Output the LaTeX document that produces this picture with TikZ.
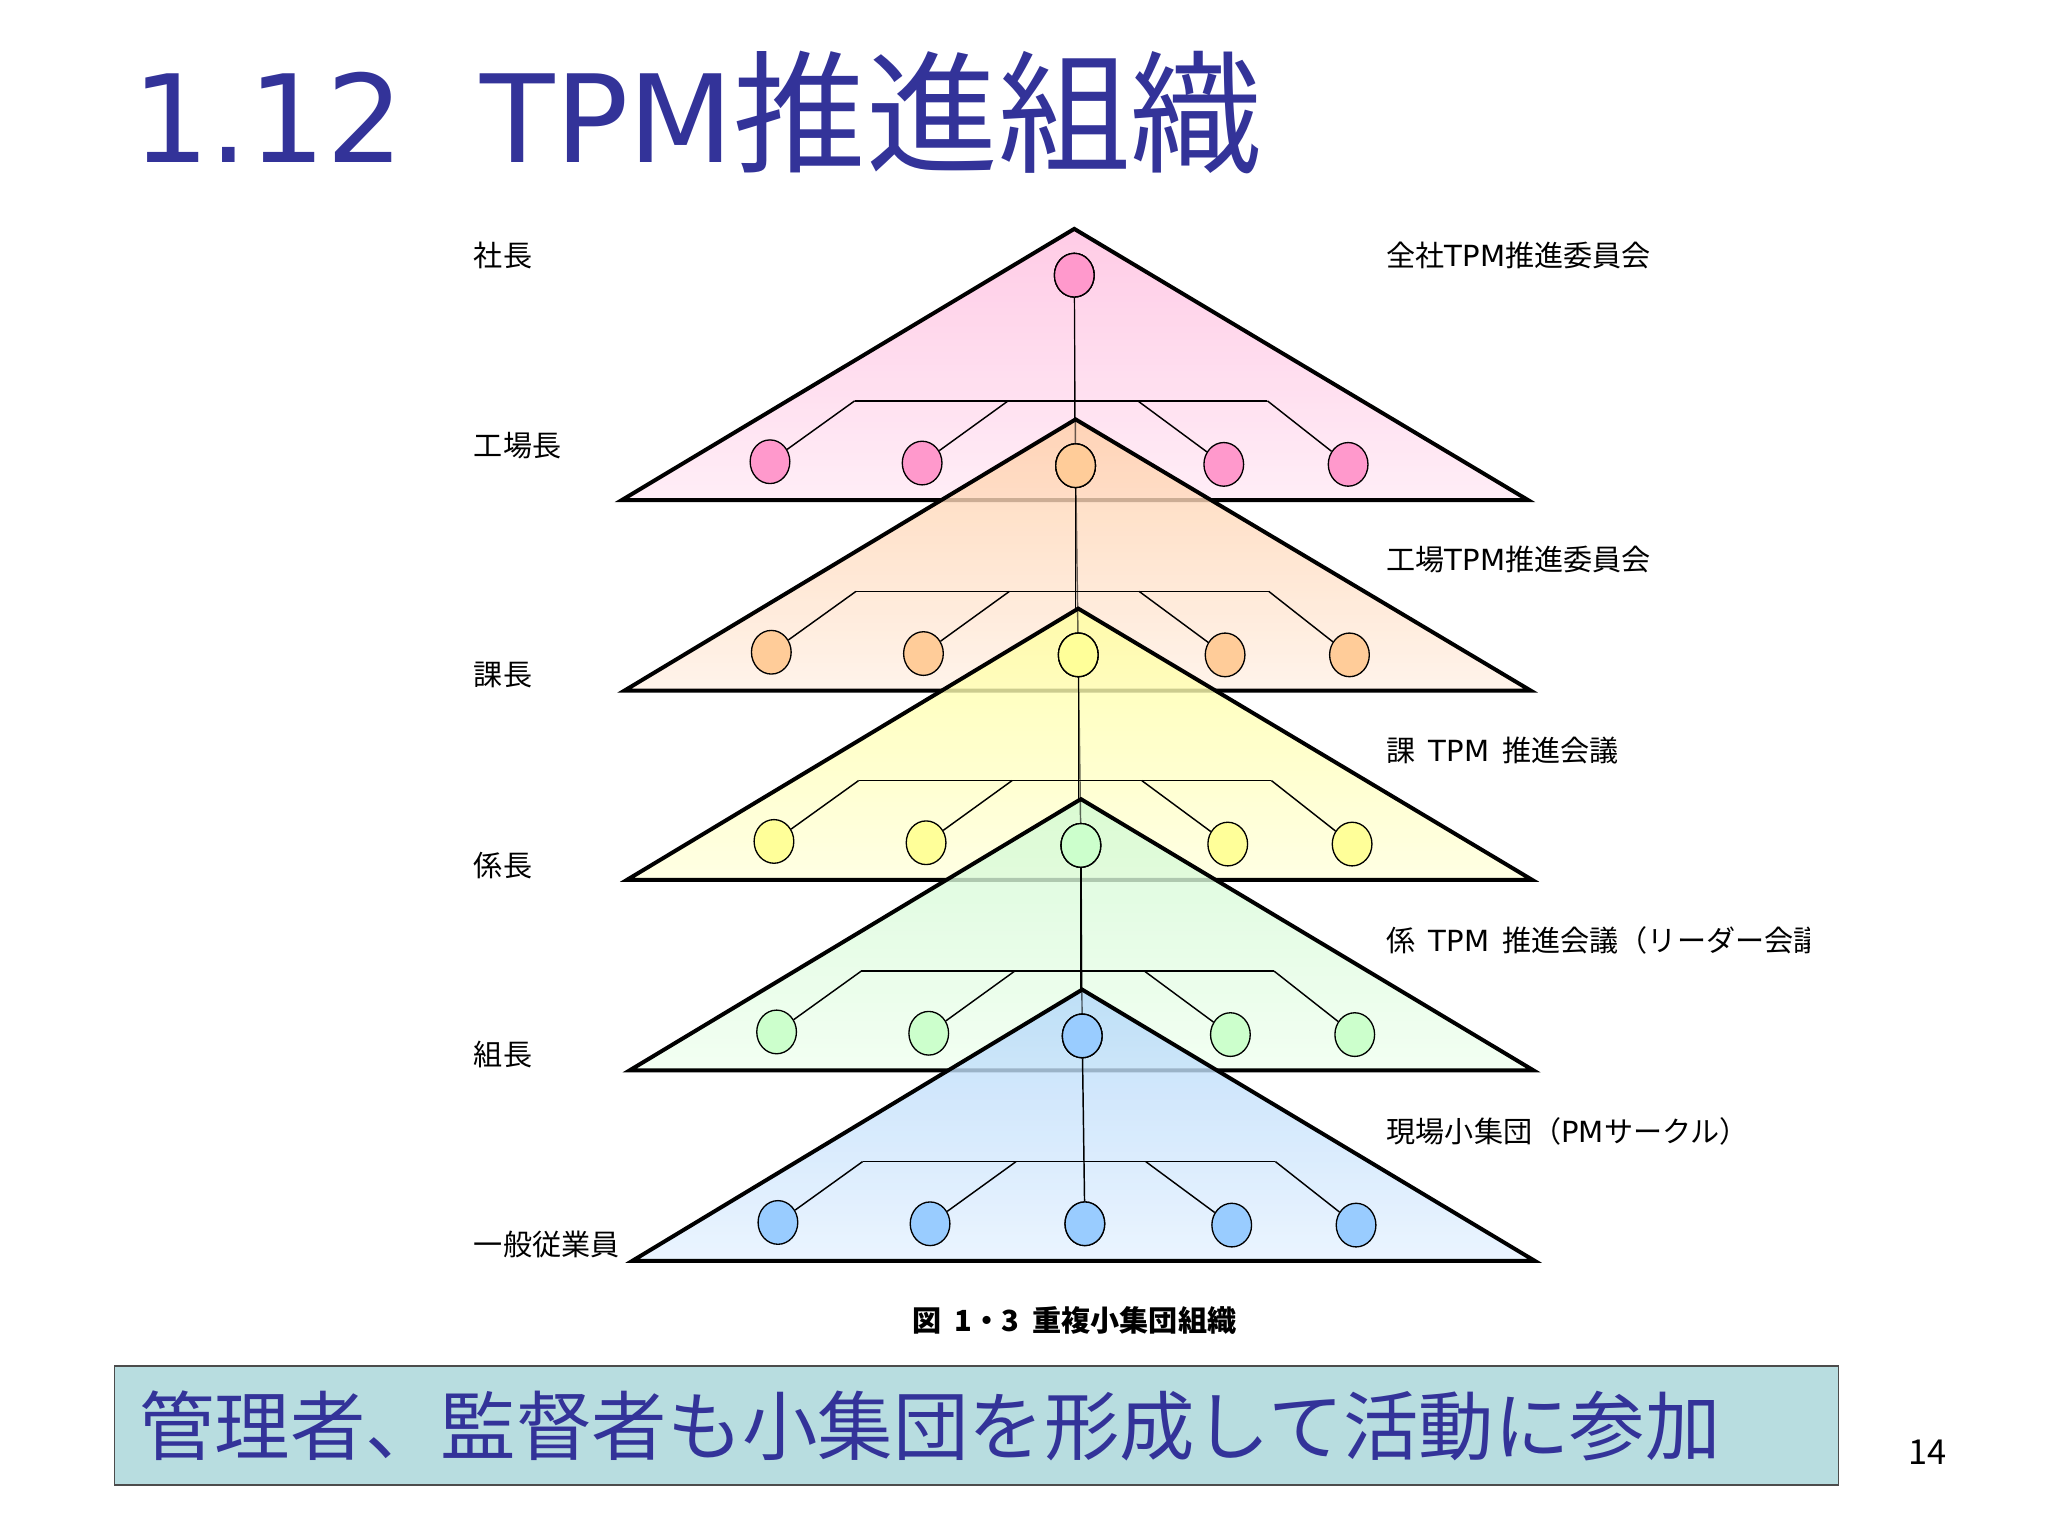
\documentclass[tikz,border=0pt]{standalone}
\usepackage{fontspec}
\usetikzlibrary{shapes.geometric}
\setmainfont{Noto Sans CJK JP}
\newfontfamily\lat{DejaVu Sans}
\begin{document}
\begin{tikzpicture}[x=1pt,y=-1pt,
  tri/.style={draw=black,line width=3pt,line join=miter},
  dot/.style={draw=black,line width=1pt,ellipse,minimum width=30pt,minimum height=33pt,inner sep=0pt},
  lnk/.style={line width=1.1pt},
  lab/.style={anchor=west,font=\fontsize{22}{24}\selectfont,inner sep=0pt}]
\useasboundingbox (0,0) rectangle (1548,1161);
\fill[white] (0,0) rectangle (1548,1161);
\node[anchor=base west,inner sep=0pt,font=\fontsize{100}{110}\selectfont,text={rgb,255:red,51;green,51;blue,153}] (title) at (100,123) {{\lat\fontsize{92}{100}\selectfont 1.12\ \ TPM}推進組織};
\definecolor{c1}{HTML}{FF99CC}\definecolor{t1}{HTML}{FFBFE0}\definecolor{b1}{HTML}{FFEAF5}
\definecolor{c2}{HTML}{FFCC99}\definecolor{t2}{HTML}{FFCFA8}\definecolor{b2}{HTML}{FFF1E6}
\definecolor{c3}{HTML}{FFFF99}\definecolor{t3}{HTML}{FFFFA0}\definecolor{b3}{HTML}{FFFFDD}
\definecolor{c4}{HTML}{CCFFCC}\definecolor{t4}{HTML}{D2FAD2}\definecolor{b4}{HTML}{F0FFF0}
\definecolor{c5}{HTML}{99CCFF}\definecolor{t5}{HTML}{B3D8FA}\definecolor{b5}{HTML}{E6F2FF}
\foreach \i/\ax/\ay/\l/\r in {1/812/173/470/1155,2/813/317/472/1157,3/815/460/474/1158,4/817/604/476/1159,5/818/748/478/1160}{
  \shade[top color=t\i,bottom color=b\i,fill opacity=0.8] (\ax,\ay) -- (\r,\ay+205) -- (\l,\ay+205) -- cycle;
  \draw[tri] (\ax,\ay) -- (\r,\ay+205) -- (\l,\ay+205) -- cycle;
  \node[dot,fill=c\i] (top\i) at (\ax,\ay+35) {};
  \draw[lnk] (\ax-166,\ay+130) -- (\ax+146,\ay+130);
  \node[dot,fill=c\i] (a\i) at (\ax-230,\ay+176) {};
  \node[dot,fill=c\i] (b\i) at (\ax-115,\ay+177) {};
  \node[dot,fill=c\i] (d\i) at (\ax+113,\ay+178) {};
  \node[dot,fill=c\i] (e\i) at (\ax+207,\ay+178) {};
  \coordinate (p\i) at (\ax-166,\ay+130);
  \coordinate (q\i) at (\ax-50,\ay+130);
  \coordinate (s\i) at (\ax+48,\ay+130);
  \coordinate (t\i) at (\ax+146,\ay+130);
  \draw[lnk] (p\i) -- (a\i); \draw[lnk] (q\i) -- (b\i);
  \draw[lnk] (s\i) -- (d\i); \draw[lnk] (t\i) -- (e\i);
  \ifnum\i<5 \draw[lnk] (top\i) -- (\ax,\ay+144);\fi
  \node[dot,fill=c\i] at (top\i) {};
}
\node[dot,fill=c5] (m5) at (820,925) {};
\foreach \i/\j in {1/2,2/3,3/4,4/5}{\draw[lnk,draw opacity=0.6] (top\i) -- (top\j);}
\draw[lnk] (top5) -- (m5);
\foreach \i in {1,...,5}{\node[dot,fill=c\i] at (top\i) {};}
\node[dot,fill=c5] at (m5) {};
\node[lab] (l1) at (358,193) {社長};
\node[lab] (l2) at (358,337) {工場長};
\node[lab] (l3) at (358,510) {課長};
\node[lab] (l4) at (358,654) {係長};
\node[lab] (l5) at (358,797) {組長};
\node[lab] (l6) at (358,941) {一般従業員};
\node[lab] (r1) at (1048,193) {全社{\lat TPM}推進委員会};
\node[lab] (r2) at (1048,423) {工場{\lat TPM}推進委員会};
\node[lab] (r3) at (1048,567) {課\ \ {\lat TPM}\ \ 推進会議};
\begin{scope}
\clip (1000,680) rectangle (1368,740);
\node[lab] (r4) at (1048,711) {係\ \ {\lat TPM}\ \ 推進会議（リーダー会議）};
\end{scope}
\node[lab] (r5) at (1048,855) {現場小集団（{\lat PM}サークル）};
\node[font=\fontsize{22}{24}\selectfont\bfseries] (cap) at (812,998) {図\ \ 1・3\ \ 重複小集団組織};
\node[draw=black!70,line width=1pt,fill={rgb,255:red,184;green,221;blue,224},minimum width=1303pt,minimum height=90pt,anchor=north west] (box) at (86,1032) {};
\node[anchor=west,inner sep=0pt,font=\fontsize{57}{60}\selectfont,text={rgb,255:red,51;green,51;blue,153}] (msg) at (105,1078) {管理者、監督者も小集団を形成して活動に参加};
\node[font=\fontsize{26}{28}\selectfont,inner sep=0pt] (pg) at (1457,1098) {14};
\end{tikzpicture}
\end{document}
